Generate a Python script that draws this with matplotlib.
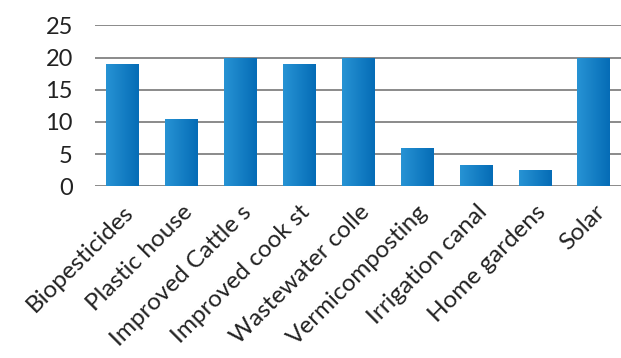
import matplotlib
matplotlib.use("Agg")
import matplotlib.pyplot as plt
import numpy as np
from matplotlib.colors import LinearSegmentedColormap

categories = ["Biopesticides", "Plastic house", "Improved Cattle s", "Improved cook st",
              "Wastewater colle", "Vermicomposting", "Irrigation canal", "Home gardens", "Solar"]
values = [19, 10.4, 20, 19, 20, 5.9, 3.3, 2.5, 20]
yticks = [0, 5, 10, 15, 20, 25]

plt.rcParams['font.family'] = ['Lato', 'DejaVu Sans']

fig = plt.figure(figsize=(6.21, 3.58), dpi=100)
ax = fig.add_axes([0.153, 0.480, 0.847, 0.449])

x = np.arange(len(categories))
bars = ax.bar(x, values, width=0.56, color='#1a80c6', zorder=2)

# horizontal gradient for each bar (light left, darker right)
cmap = LinearSegmentedColormap.from_list('bl', ['#2793d4', '#056cb6'])
grad = np.linspace(0, 1, 64).reshape(1, -1)
for b in bars:
    x0, y0 = b.get_x(), b.get_y()
    w, h = b.get_width(), b.get_height()
    im = ax.imshow(grad, cmap=cmap, aspect='auto', extent=[x0, x0 + w, y0, y0 + h], zorder=3)
    im.set_clip_path(b)

ax.set_xlim(-0.47, 8.46)
ax.set_ylim(0, 25)
ax.set_yticks(yticks)
ax.yaxis.grid(True, color='#8a8a8a', linewidth=1.4, zorder=1)
ax.set_axisbelow(True)
for s in ax.spines.values():
    s.set_visible(False)
ax.tick_params(axis='both', length=0, colors='#222222')
ax.tick_params(axis='y', pad=16, labelsize=17)
ax.set_xticks(x)
ax.set_xticklabels(categories, rotation=45, ha='right', rotation_mode='anchor', fontsize=17.5)
ax.tick_params(axis='x', pad=11)

fig.savefig('out.png', dpi=100)
